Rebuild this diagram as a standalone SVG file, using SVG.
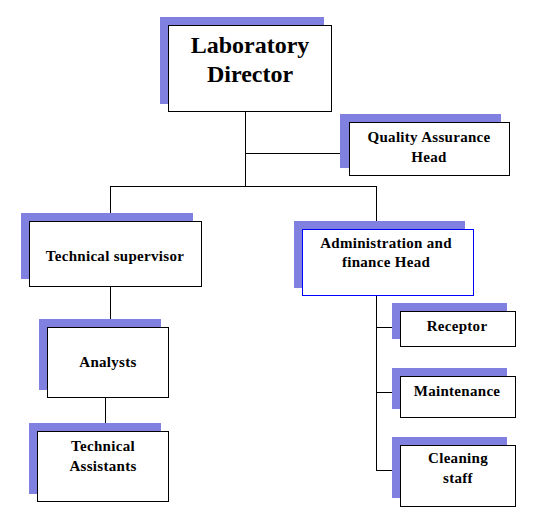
<svg xmlns="http://www.w3.org/2000/svg" width="544" height="527" viewBox="0 0 544 527">
<style>
.sh{fill:#8080E0;stroke:none}
.bx{fill:#fff;stroke:#000;stroke-width:1}
.bb{fill:#fff;stroke:#0000FF;stroke-width:1}
text{font-family:'Liberation Serif','DejaVu Serif',serif;font-weight:bold;font-size:15px;letter-spacing:0.3px;text-anchor:middle;fill:#000}
text.big{font-size:24px;letter-spacing:0px}
.cn{stroke:#000;stroke-width:1;fill:none}
</style>
<rect width="544" height="527" fill="#fff"/>
<g id="connectors">
<path class="cn" d="M245.5 112V186.5M245.5 153.5H349M110 186.5H376.5M110.5 186V221M110.5 286V327M105.5 397V431M376.5 186V229M376.5 295V470.5M376 327.5H400M376 392.5H400M376 470.5H400"/>
</g>
<g id="director">
<rect class="sh" x="160" y="17" width="164" height="87"/>
<rect class="bx" x="168.5" y="25.5" width="163" height="86"/>
<text class="big" x="250" y="53" font-family="Liberation Serif, serif">Laboratory</text>
<text class="big" x="250" y="82" font-family="Liberation Serif, serif">Director</text>
</g>
<g id="qa">
<rect class="sh" x="340" y="114" width="161" height="54"/>
<rect class="bx" x="349.5" y="122.5" width="160" height="53"/>
<text x="429" y="142">Quality Assurance</text>
<text x="429" y="162">Head</text>
</g>
<g id="techsup">
<rect class="sh" x="21" y="213" width="172" height="66"/>
<rect class="bx" x="29.5" y="221.5" width="172" height="65"/>
<text x="115" y="261">Technical supervisor</text>
</g>
<g id="analysts">
<rect class="sh" x="39" y="319" width="122" height="71"/>
<rect class="bx" x="47.5" y="327.5" width="121" height="70"/>
<text x="108" y="367">Analysts</text>
</g>
<g id="techassist">
<rect class="sh" x="29" y="423" width="132" height="71"/>
<rect class="bx" x="37.5" y="431.5" width="131" height="70"/>
<text x="103" y="451">Technical</text>
<text x="103" y="471">Assistants</text>
</g>
<g id="admin">
<rect class="sh" x="294" y="221" width="171" height="67"/>
<rect class="bb" x="302.5" y="229.5" width="171" height="66"/>
<text x="386" y="248">Administration and</text>
<text x="386" y="267">finance Head</text>
</g>
<g id="receptor">
<rect class="sh" x="392" y="303" width="115" height="36"/>
<rect class="bx" x="400.5" y="311.5" width="115" height="35"/>
<text x="457" y="331">Receptor</text>
</g>
<g id="maintenance">
<rect class="sh" x="392" y="368" width="115" height="41"/>
<rect class="bx" x="400.5" y="376.5" width="115" height="41"/>
<text x="457" y="396">Maintenance</text>
</g>
<g id="cleaning">
<rect class="sh" x="392" y="437" width="115" height="61"/>
<rect class="bx" x="400.5" y="445.5" width="115" height="61"/>
<text x="458" y="463">Cleaning</text>
<text x="458" y="483">staff</text>
</g>
</svg>
